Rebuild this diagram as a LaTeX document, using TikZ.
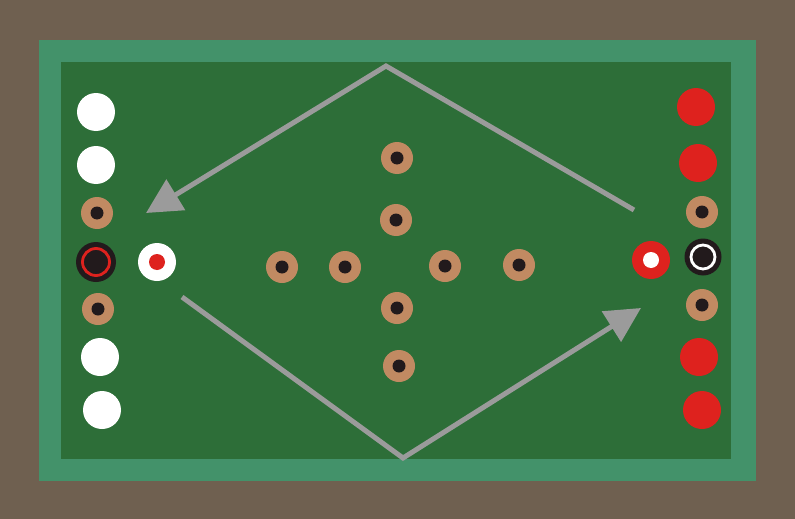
\documentclass[tikz,border=0pt]{standalone}
\usepackage{tikz}
\usetikzlibrary{positioning}
\usetikzlibrary{arrows.meta}

\definecolor{frame}{HTML}{6F6050}
\definecolor{cushion}{HTML}{43926A}
\definecolor{cloth}{HTML}{2D6E38}
\definecolor{wood}{HTML}{C18A62}
\definecolor{coin}{HTML}{221A1C}
\definecolor{redman}{HTML}{DE221E}
\definecolor{track}{HTML}{9B9B9B}

\begin{document}
\begin{tikzpicture}[
        x = 1pt, y = -1pt,
        man/.style = {
            circle,
            fill=#1,
            minimum size = 38pt,
            inner sep = 0pt,
            outer sep = 0pt
        },
        man/.default = white,
        pawn/.style = {
            man=wood,
            minimum size = 32pt,
            path picture = {\fill[coin] (path picture bounding box.center) circle (6.5pt);}
        },
        striker/.style 2 args = {
            man=#1,
            path picture = {\fill[#2] (path picture bounding box.center) circle (8pt);}
        },
        queen/.style 2 args = {
            man=coin,
            minimum size = #1,
            path picture = {\draw[#2, line width = 2.8pt] (path picture bounding box.center) circle (#1/2 - 6.5pt);}
        },
        shot/.style = {
            draw=track,
            line width = 5pt,
            -{Triangle[length=35pt, width=35pt]}
        }
    ]
    % board
    \fill[frame] (0,0) rectangle (795,519);
    \fill[cushion] (39,40) rectangle (756,481);
    \fill[cloth] (61,62) rectangle (731,459);

    % left column
    \node[man] (w1) at (96,112) {};
    \node[man] (w2) at (96,165) {};
    \node[pawn] (lp1) at (97,213) {};
    \node[queen={40pt}{redman}] (lq) at (96,262) {};
    \node[pawn] (lp2) at (98,309) {};
    \node[man] (w3) at (100,357) {};
    \node[man] (w4) at (102,410) {};
    \node[striker={white}{redman}] (ls) at (157,262) {};

    % right column
    \node[man=redman] (r1) at (696,107) {};
    \node[man=redman] (r2) at (698,163) {};
    \node[pawn] (rp1) at (702,212) {};
    \node[queen={37pt}{white}] (rq) at (703,257) {};
    \node[pawn] (rp2) at (702,305) {};
    \node[man=redman] (r3) at (699,357) {};
    \node[man=redman] (r4) at (702,410) {};
    \node[striker={redman}{white}] (rs) at (651,260) {};

    % centre
    \node[pawn] (c1) at (397,158) {};
    \node[pawn] (c2) at (396,220) {};
    \node[pawn] (c3) at (282,267) {};
    \node[pawn] (c4) at (345,267) {};
    \node[pawn] (c5) at (445,266) {};
    \node[pawn] (c6) at (519,265) {};
    \node[pawn] (c7) at (397,308) {};
    \node[pawn] (c8) at (399,366) {};

    % shots
    \coordinate (ne) at (634,210);
    \coordinate (apex) at (386,66);
    \coordinate (west) at (146,213);
    \coordinate (sw) at (182,297);
    \coordinate (base) at (403,458);
    \coordinate (east) at (641,308);

    \draw[shot] (ne) -- (apex) -- (west);
    \draw[shot] (sw) -- (base) -- (east);

\end{tikzpicture}
\end{document}
